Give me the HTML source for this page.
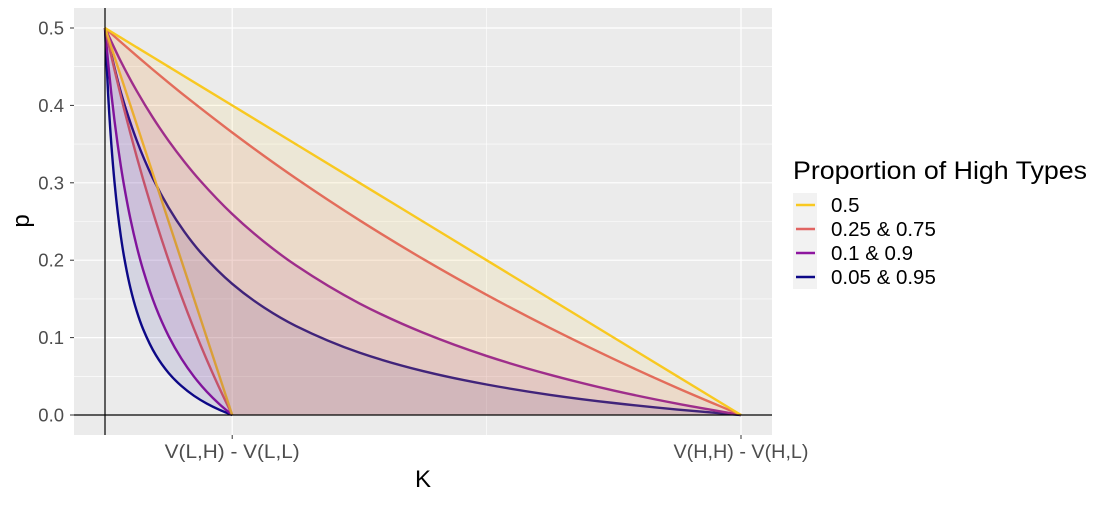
<!DOCTYPE html>
<html><head><meta charset="utf-8"><style>
body{margin:0;background:#fff;font-family:"Liberation Sans",sans-serif;}
svg text{font-family:"Liberation Sans",sans-serif;}
</style></head><body>
<svg id="chart" width="1100" height="500" xmlns="http://www.w3.org/2000/svg">
<rect x="74" y="8" width="698" height="427" fill="#ebebeb"/>
<g id="grid"></g>
<g id="lines"></g>
<g id="fills"></g>
<line x1="105" y1="8" x2="105" y2="435" stroke="#000" stroke-width="1.2"/>
<line x1="74" y1="415" x2="772" y2="415" stroke="#000" stroke-width="1.2"/>
<g id="ticks"></g>
<text transform="translate(29,221) rotate(-90)" text-anchor="middle" font-size="24" fill="#000">p</text>
<text x="423" y="487" text-anchor="middle" font-size="24" fill="#000">K</text>
<g>
<text x="793" y="179" font-size="25" textLength="294" lengthAdjust="spacingAndGlyphs" fill="#000">Proportion of High Types</text>
<rect x="793" y="193" width="24" height="96" fill="#f2f2f2"/>
<g id="legend"></g>
</g>
</svg>
<script>
const tGrid = [0,0.025,0.05,0.075,0.1,0.125,0.15,0.2,0.25,0.3,0.4,0.5,0.6,0.7,0.8,0.9,1];
const seriesNames = ["0.5","0.25 & 0.75","0.1 & 0.9","0.05 & 0.95"];
const seriesColors = ["#f9c921","#e16462","#8e169f","#0d0887"];
const lowEnd = 1, highEnd = 5;
// curves ending at V(H,H)-V(H,L)
const highYellow = [0.5,0.4875,0.475,0.4625,0.45,0.4375,0.425,0.4,0.375,0.35,0.3,0.25,0.2,0.15,0.1,0.05,0];
const highRed = [0.5,0.4817,0.4639,0.4464,0.4294,0.4127,0.3965,0.365,0.3348,0.3059,0.2517,0.2016,0.1553,0.1123,0.0723,0.0349,0];
const highPurple = [0.5,0.4567,0.4185,0.3846,0.3543,0.3271,0.3025,0.2597,0.2239,0.1934,0.1442,0.1064,0.0763,0.0519,0.0316,0.0146,0];
const highBlue = [0.5,0.4167,0.3545,0.3063,0.2679,0.2365,0.2104,0.1695,0.1389,0.1151,0.0806,0.0568,0.0394,0.026,0.0155,0.007,0];
// curves ending at V(L,H)-V(L,L)
const lowYellow = [0.5,0.4875,0.475,0.4625,0.45,0.4375,0.425,0.4,0.375,0.35,0.3,0.25,0.2,0.15,0.1,0.05,0];
const lowRed = [0.5,0.4815,0.4634,0.4458,0.4286,0.4118,0.3953,0.3636,0.3333,0.3043,0.25,0.2,0.1538,0.1111,0.0714,0.0345,0];
const lowPurple = [0.5,0.4545,0.4148,0.3799,0.3488,0.3211,0.2962,0.2532,0.2174,0.1872,0.1389,0.102,0.073,0.0495,0.0301,0.0139,0];
const lowBlue = [0.5,0.4131,0.3493,0.3003,0.2616,0.2303,0.2043,0.1639,0.1339,0.1108,0.0773,0.0543,0.0376,0.0248,0.0148,0.0067,0];
const yTicks = [0,0.1,0.2,0.3,0.4,0.5];
const yTickLabels = ["0.0","0.1","0.2","0.3","0.4","0.5"];
const xTicks = [1,5];
const xTickLabels = ["V(L,H) - V(L,L)","V(H,H) - V(H,L)"];

const NS="http://www.w3.org/2000/svg";
const X = v => 105 + v*127.2;
const Y = v => 415 - v*774;
function mk(tag, parent, attrs){const e=document.createElementNS(NS,tag);for(const k in attrs)e.setAttribute(k,attrs[k]);parent.appendChild(e);return e;}
// monotone cubic (Fritsch-Carlson) in x
function smoothSeg(pts){
  const n=pts.length, dx=[], dy=[], m=[], s=[];
  for(let i=0;i<n-1;i++){dx.push(pts[i+1][0]-pts[i][0]);dy.push(pts[i+1][1]-pts[i][1]);s.push(dy[i]/dx[i]);}
  m[0]=s[0]; m[n-1]=s[n-2];
  for(let i=1;i<n-1;i++){
    if(s[i-1]*s[i]<=0) m[i]=0;
    else { const w1=2*dx[i]+dx[i-1], w2=dx[i]+2*dx[i-1]; m[i]=(w1+w2)/(w1/s[i-1]+w2/s[i]); }
  }
  let d='';
  for(let i=0;i<n-1;i++){
    const h=dx[i]/3;
    d+=` C${pts[i][0]+h},${pts[i][1]+m[i]*h} ${pts[i+1][0]-h},${pts[i+1][1]-m[i+1]*h} ${pts[i+1][0]},${pts[i+1][1]}`;
  }
  return d;
}
function revSeg(pts){
  const r=pts.map(p=>[-p[0],p[1]]).reverse();
  const seg=smoothSeg(r);
  return seg.replace(/(-?[\d.e]+),(-?[\d.e]+)/g,(a,x,y)=>`${-parseFloat(x)},${y}`);
}
const grid=document.getElementById('grid');
[0.05,0.15,0.25,0.35,0.45].forEach(v=>{
  const l=mk('line',grid,{x1:74,x2:772,y1:Y(v),y2:Y(v),stroke:'#fff','stroke-width':0.6});
  
  
});
mk('line',grid,{x1:X(3),x2:X(3),y1:8,y2:435,stroke:'#fff','stroke-width':0.6});
yTicks.forEach(v=>{
  const l=mk('line',grid,{x1:74,x2:772,y1:Y(v),y2:Y(v),stroke:'#fff','stroke-width':1.2});
  
  
});
xTicks.forEach(v=>{
  const l=mk('line',grid,{x1:X(v),x2:X(v),y1:8,y2:435,stroke:'#fff','stroke-width':1.2});
  
  
});
const ticks=document.getElementById('ticks');
yTicks.forEach((v,i)=>{
  const t=mk('text',ticks,{x:64,y:Y(v)+6.5,'text-anchor':'end','font-size':18.5,fill:'#4d4d4d'});
  t.textContent=yTickLabels[i];
  
  
  mk('line',ticks,{x1:70,x2:74,y1:Y(v),y2:Y(v),stroke:'#333','stroke-width':1});
});
xTicks.forEach((v,i)=>{
  mk('line',ticks,{x1:X(v),x2:X(v),y1:435,y2:439,stroke:'#333','stroke-width':1});
  const t=mk('text',ticks,{x:X(v),y:458,'text-anchor':'middle','font-size':19,fill:'#4d4d4d',textLength:135,lengthAdjust:'spacingAndGlyphs'});
  t.textContent=xTickLabels[i];
  
  
});
const highs=[highYellow,highRed,highPurple,highBlue];
const lows=[lowYellow,lowRed,lowPurple,lowBlue];
const linesG=document.getElementById('lines'), fillsG=document.getElementById('fills');
function curvePts(vals,end){return tGrid.map((t,i)=>[X(t*end),Y(vals[i])]);}
function drawLine(pts,ci,tag){
  const ln=mk('path',linesG,{d:`M${pts[0][0]},${pts[0][1]}`+smoothSeg(pts),fill:'none',stroke:seriesColors[ci],'stroke-width':2.4});
  
  
}
[3,2,1,0].forEach(i=>{
  drawLine(curvePts(highs[i],highEnd),i,'high-'+i);
  drawLine(curvePts(lows[i],lowEnd),i,'low-'+i);
});
[3,2,1,0].forEach(i=>{
  const hp=curvePts(highs[i],highEnd), lp=curvePts(lows[i],lowEnd);
  const d=`M${hp[0][0]},${hp[0][1]}`+smoothSeg(hp)+` L${lp[lp.length-1][0]},${lp[lp.length-1][1]}`+revSeg(lp)+' Z';
  const f=mk('path',fillsG,{d:d,fill:seriesColors[i],'fill-opacity':0.1});
  
  
});
const leg=document.getElementById('legend');
seriesNames.forEach((n,i)=>{
  const y=205+i*24;
  const k=mk('line',leg,{x1:796,x2:815,y1:y,y2:y,stroke:seriesColors[i],'stroke-width':2.6});
  
  
  const t=mk('text',leg,{x:831,y:y+7,'font-size':20.5,fill:'#000'});
  t.textContent=n;
  
  
});
</script>
</body></html>
